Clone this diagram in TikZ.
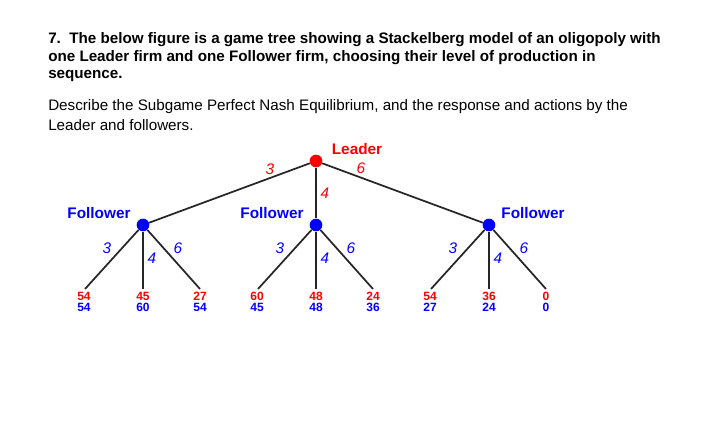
\documentclass[tikz,border=0pt]{standalone}
\usepackage{fontspec}
\setmainfont{Liberation Sans}
\begin{document}
\begin{tikzpicture}[x=0.75pt,y=-0.75pt,
  txt/.style={anchor=west,inner sep=0,font=\fontsize{11.4}{13}\selectfont},
  btxt/.style={txt,font=\fontsize{11.4}{13}\selectfont\bfseries},
  edge/.style={line width=1.3pt,black!85},
  lead/.style={circle,fill=red,inner sep=0,minimum size=9.5pt},
  fol/.style={circle,fill=blue,inner sep=0,minimum size=9.5pt},
  rlab/.style={text=red,font=\fontsize{11.5}{13}\selectfont\itshape,inner sep=0},
  blab/.style={text=blue,font=\fontsize{11.5}{13}\selectfont\itshape,inner sep=0},
  plabel/.style={font=\fontsize{11.5}{13}\selectfont\bfseries,inner sep=0},
  pay/.style={align=center,inner sep=0,font=\fontsize{9}{9}\selectfont\bfseries}]
\useasboundingbox (0,0) rectangle (711,442);
\node[btxt] (t1) at (48,40) {7.\ \ The below figure is a game tree showing a Stackelberg model of an oligopoly with};
\node[btxt] (t2) at (48,58) {one Leader firm and one Follower firm, choosing their level of production in};
\node[btxt] (t3) at (48,76) {sequence.};
\node[txt] (t4) at (48,107) {Describe the Subgame Perfect Nash Equilibrium, and the response and actions by the};
\node[txt] (t5) at (48,125) {Leader and followers.};

\node[lead] (L) at (316,161) {};
\node[fol] (F1) at (143,225) {};
\node[fol] (F2) at (316,225) {};
\node[fol] (F3) at (489,225) {};
\node[plabel,text=red] (Ln) at (357,149) {Leader};
\node[plabel,text=blue] (F1n) at (99,213) {Follower};
\node[plabel,text=blue] (F2n) at (272,213) {Follower};
\node[plabel,text=blue] (F3n) at (533,213) {Follower};
\draw[edge] (L) -- (F1); \draw[edge] (L) -- (F2); \draw[edge] (L) -- (F3);
\node[rlab] (l3) at (270,169) {3};
\node[rlab] (l4) at (325,193) {4};
\node[rlab] (l6) at (361,168) {6};

\foreach \f/\x/\a/\b/\c/\d/\e/\g in {F1/143/54/54/45/60/27/54, F2/316/60/45/48/48/24/36, F3/489/54/27/36/24/0/0}{
  \coordinate (\f a) at ({\x-58},289);
  \coordinate (\f b) at (\x,289);
  \coordinate (\f c) at ({\x+57},289);
  \draw[edge] (\f) -- (\f a); \draw[edge] (\f) -- (\f b); \draw[edge] (\f) -- (\f c);
  \node[pay] (\f pa) at ({\x-59},302) {\textcolor{red}{\a}\\[-1pt]\textcolor{blue}{\b}};
  \node[pay] (\f pb) at (\x,302) {\textcolor{red}{\c}\\[-1pt]\textcolor{blue}{\d}};
  \node[pay] (\f pc) at ({\x+57},302) {\textcolor{red}{\e}\\[-1pt]\textcolor{blue}{\g}};
  \node[blab] (\f l3) at ({\x-36},248) {3};
  \node[blab] (\f l4) at ({\x+9},258) {4};
  \node[blab] (\f l6) at ({\x+35},248) {6};
}
\end{tikzpicture}
\end{document}
